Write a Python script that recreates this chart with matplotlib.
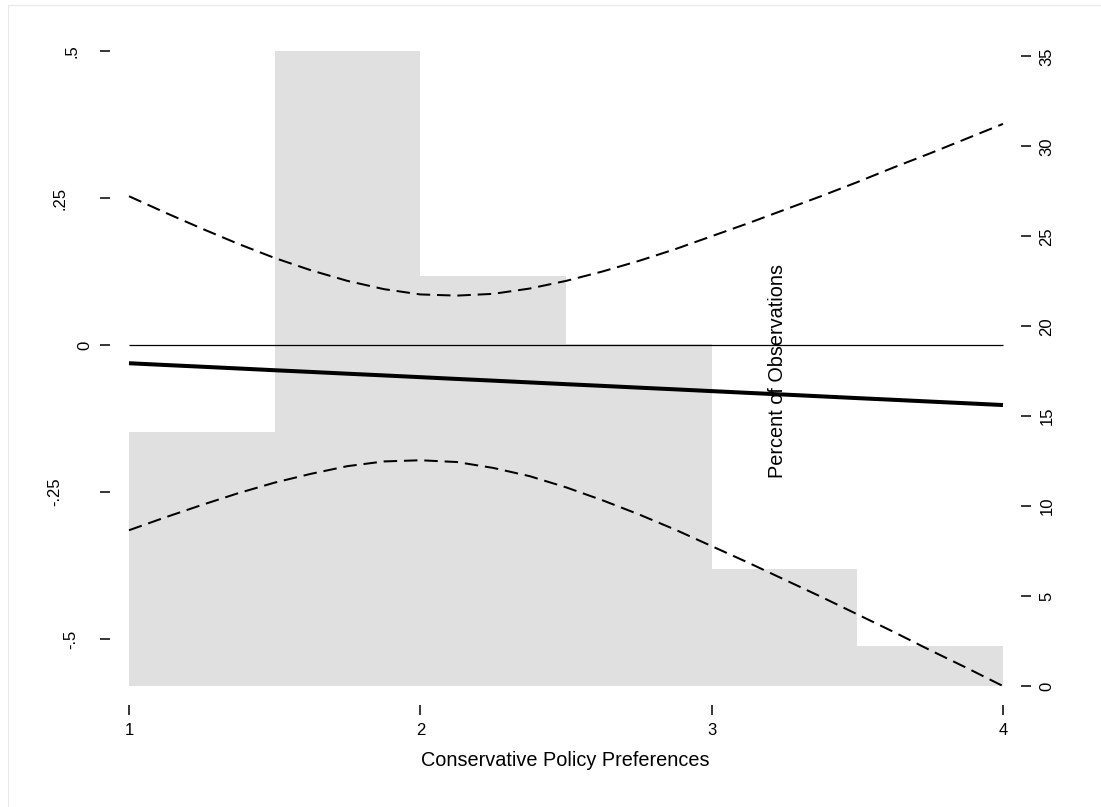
import matplotlib
matplotlib.use("Agg")
import matplotlib.pyplot as plt
from matplotlib.lines import Line2D
from matplotlib.transforms import blended_transform_factory

plt.rcParams["font.family"] = ["Liberation Sans", "DejaVu Sans"]

# Moderator values at which the marginal effect is evaluated
policy_x = [1.0, 1.125, 1.25, 1.375, 1.5, 1.625, 1.75, 1.875, 2.0, 2.125, 2.25,
            2.375, 2.5, 2.625, 2.75, 2.875, 3.0, 3.125, 3.25, 3.375, 3.5,
            3.625, 3.75, 3.875, 4.0]
# Marginal effect and its 95% confidence bounds
effect = [-0.0310, -0.0340, -0.0369, -0.0399, -0.0429, -0.0458, -0.0488,
          -0.0517, -0.0547, -0.0577, -0.0606, -0.0636, -0.0666, -0.0695,
          -0.0725, -0.0754, -0.0784, -0.0814, -0.0843, -0.0873, -0.0903,
          -0.0932, -0.0962, -0.0991, -0.1021]
upper_ci = [0.253, 0.225, 0.198, 0.172, 0.148, 0.127, 0.109, 0.095, 0.086,
            0.084, 0.087, 0.096, 0.109, 0.125, 0.143, 0.163, 0.185, 0.207,
            0.230, 0.253, 0.277, 0.302, 0.326, 0.351, 0.376]
lower_ci = [-0.315, -0.293, -0.272, -0.252, -0.234, -0.219, -0.206, -0.198,
            -0.196, -0.199, -0.209, -0.223, -0.242, -0.264, -0.288, -0.314,
            -0.342, -0.370, -0.399, -0.428, -0.458, -0.488, -0.519, -0.549,
            -0.580]

# Distribution of the moderator (percent of observations per bin)
bin_edges = [1.0, 1.5, 2.0, 2.5, 3.0, 3.5, 4.0]
bin_pct = [14.1, 35.3, 22.8, 19.0, 6.5, 2.2]

x_ticks = [1, 2, 3, 4]
y_ticks = [-0.5, -0.25, 0, 0.25, 0.5]
y_tick_labels = ["-.5", "-.25", "0", ".25", ".5"]
pct_ticks = [0, 5, 10, 15, 20, 25, 30, 35]

# ---- layout ----
W, H = 1101, 807
fig = plt.figure(figsize=(W / 100, H / 100), dpi=100)
ax_l, ax_r, ax_b, ax_t = 110, 1021, 705, 25
ax = fig.add_axes([ax_l / W, 1 - ax_b / H, (ax_r - ax_l) / W, (ax_b - ax_t) / H])
ax2 = ax.twinx()

xlim = (0.9348, 4.0618)
ylim = (-0.6122, 0.5442)
hist_floor, hist_top = -0.58, 0.5   # histogram spans this range on the effect scale
pmax = max(bin_pct)

def to_pct(v):
    return (v - hist_floor) / (hist_top - hist_floor) * pmax

ax.set_xlim(*xlim)
ax.set_ylim(*ylim)
ax2.set_ylim(to_pct(ylim[0]), to_pct(ylim[1]))

# histogram on the secondary axis, kept behind the lines
widths = [b - a for a, b in zip(bin_edges[:-1], bin_edges[1:])]
ax2.bar(bin_edges[:-1], bin_pct, width=widths, align="edge",
        color="#e0e0e0", edgecolor="none", linewidth=0)
ax.set_zorder(ax2.get_zorder() + 1)
ax.patch.set_visible(False)

# lines
ax.hlines(0, policy_x[0], policy_x[-1], color="black", lw=0.9)
ax.plot(policy_x, effect, color="black", lw=2.9, solid_capstyle="butt")
for ci in (upper_ci, lower_ci):
    ax.plot(policy_x, ci, color="black", lw=1.45, dashes=(6.7, 3.4))

# spines off, floating ticks only
for a in (ax, ax2):
    for s in a.spines.values():
        s.set_visible(False)

tick_fs = 12
tick_len = 7.2
ax.set_xticks(x_ticks)
ax.set_xticklabels([str(t) for t in x_ticks], fontsize=tick_fs)
ax.tick_params(axis="x", direction="out", length=tick_len, width=1.1, pad=6)

ax.set_yticks(y_ticks)
ax.set_yticklabels([""] * len(y_ticks))
ax.tick_params(axis="y", direction="out", length=tick_len, width=1.1, left=True)

# left labels, rotated, each centred on its tick
left_label_px = [70.8, 54.5, 85.0, 59.5, 72.5]
trans = blended_transform_factory(fig.transFigure, ax.transData)
for yv, lab, px in zip(y_ticks, y_tick_labels, left_label_px):
    ax.text(px / W, yv, lab, transform=trans, rotation=90,
            ha="center", va="center", fontsize=tick_fs)

ax2.set_yticks(pct_ticks)
ax2.set_yticklabels([str(t) for t in pct_ticks], rotation=90, va="center",
                    fontsize=tick_fs)
ax2.tick_params(axis="y", direction="out", length=tick_len, width=1.1, pad=6)

ax.set_xlabel("Conservative Policy Preferences", fontsize=14.3)
ax.xaxis.set_label_coords(0.5, -0.0676)
ax2.set_ylabel("Percent of Observations", fontsize=14.3)
ax2.yaxis.set_label_coords(0.7222, 0.4919)

# thin frame along the top and left edges
edge = "#e8e8e8"
fig.add_artist(Line2D([8 / W, 1], [1 - 5 / H, 1 - 5 / H], transform=fig.transFigure,
                      color=edge, lw=0.8))
fig.add_artist(Line2D([8 / W, 8 / W], [0, 1 - 5 / H], transform=fig.transFigure,
                      color=edge, lw=0.8))

fig.savefig("out.png", dpi=100, facecolor="white")
